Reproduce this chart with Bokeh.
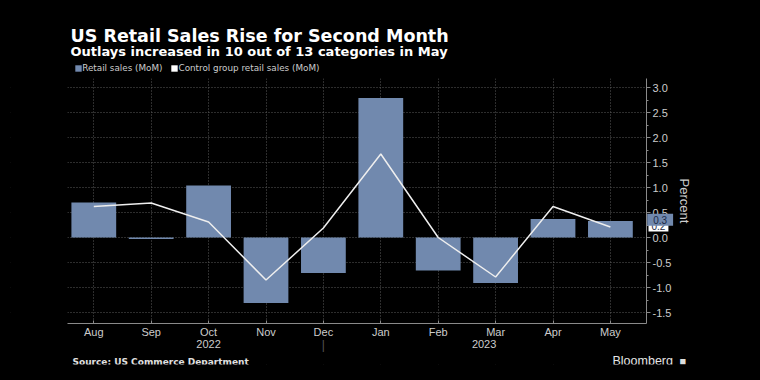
from bokeh.plotting import figure
from bokeh.models import (Range1d, FixedTicker, SingleIntervalTicker, Label, NumeralTickFormatter,
                          BoxAnnotation, Legend, LegendItem)
from bokeh.embed import file_html
from bokeh.resources import INLINE

# ---- data ----
months = ["Aug", "Sep", "Oct", "Nov", "Dec", "Jan", "Feb", "Mar", "Apr", "May"]
years = ["2022", "2023"]
year_pos = [2, 6.8]
retail_sales = [0.70, -0.03, 1.04, -1.31, -0.71, 2.79, -0.66, -0.91, 0.37, 0.33]
control_group = [0.62, 0.69, 0.31, -0.85, 0.19, 1.67, 0.00, -0.79, 0.62, 0.21]

x = list(range(len(months)))

BG = "#000000"
BAR = "#7189ae"
LINE = "#eeeeee"
GRID = "#5a5a5a"
AX = "#8a8a8a"
TXT = "#cccccc"
FONT = "Liberation Sans"
TFONT = "DejaVu Sans"

W, H = 760, 380
# frame spans almost the whole canvas; axes sit at fixed locations inside it
ML, MR, MT, MB = 10, 60, 10, 16
FL, FR, FT, FB = ML, W - MR, MT, H - MB          # frame edges (px)
X0, DX = 93.3, 57.4                               # px of first month, px per month
Y0, DY = 237.0, 50.0                              # px of zero, px per unit
PX_L, PX_R, PY_T, PY_B = 67, 646, 78, 323         # plotting area (px)

def xv(px): return (px - X0) / DX
def yv(py): return (Y0 - py) / DY

XA, XB = xv(PX_L), xv(PX_R)      # plotting area in data units
YA, YB = yv(PY_B), yv(PY_T)

p = figure(width=W, height=H, output_backend="svg", toolbar_location=None,
           y_axis_location="right",
           x_range=Range1d(xv(FL), xv(FR)), y_range=Range1d(yv(FB), yv(FT)),
           min_border_left=ML, min_border_right=MR, min_border_top=MT, min_border_bottom=MB)
p.background_fill_color = BG
p.border_fill_color = BG
p.outline_line_color = None

bars = p.vbar(x=x, top=retail_sales, bottom=0, width=0.78, fill_color=BAR, line_color=None)
line = p.line(x=x, y=control_group, line_color=LINE, line_width=1.5)
# hidden renderer that only supplies the white square legend swatch
swatch = p.vbar(x=x, top=control_group, width=0.78, fill_color="#ffffff", line_color=None,
                visible=False)

# axes at fixed locations
xa = p.xaxis[0]
xa.fixed_location = YA
xa.bounds = (XA, XB)
xa.ticker = FixedTicker(ticks=x)
xa.major_label_overrides = {i: m for i, m in zip(x, months)}
xa.axis_line_color = AX
xa.major_tick_in = 3
xa.major_tick_out = 0
xa.major_tick_line_color = AX
xa.minor_tick_line_color = None
xa.major_label_text_color = TXT
xa.major_label_text_font = FONT
xa.major_label_text_font_size = "11px"
xa.major_label_standoff = 2

ya = p.yaxis[0]
ya.fixed_location = XB
ya.bounds = (YA, YB)
ya.ticker = SingleIntervalTicker(interval=0.5, num_minor_ticks=2)
ya.formatter = NumeralTickFormatter(format="0.0")
ya.axis_line_color = AX
ya.major_tick_out = 4
ya.major_tick_in = 0
ya.minor_tick_out = 2
ya.minor_tick_in = 0
ya.major_tick_line_color = AX
ya.minor_tick_line_color = AX
ya.major_label_text_color = TXT
ya.major_label_text_font = FONT
ya.major_label_text_font_size = "11px"
ya.major_label_standoff = 2
ya.axis_label = "Percent"
ya.axis_label_text_color = TXT
ya.axis_label_text_font = FONT
ya.axis_label_text_font_size = "13px"
ya.axis_label_text_font_style = "normal"
ya.axis_label_standoff = 3

# grids
p.xgrid.ticker = FixedTicker(ticks=x)
p.ygrid.ticker = ya.ticker
p.ygrid.bounds = (YA, YB)
for g in (p.xgrid, p.ygrid):
    g.grid_line_color = GRID
    g.grid_line_dash = "1 2"
    g.grid_line_width = 1

# mask grid lines outside the plotting area
xs, xe, ys, ye = xv(FL) - 1, xv(FR) + 1, yv(FB) - 1, yv(FT) + 1
for l, r, b, t in [(xs, xe, YB, ye), (xs, xe, ys, YA), (xs, XA, ys, ye), (XB, xe, ys, ye)]:
    p.add_layout(BoxAnnotation(left=l, right=r, bottom=b, top=t, fill_color=BG, fill_alpha=1,
                               line_color=None, level="underlay"))

def lab(text, px, py, size, color="#ffffff", bold=False, font=FONT, align="left",
        baseline="alphabetic"):
    # px/py: page pixels from top-left; converted to screen units from frame bottom-left
    p.add_layout(Label(text=text, x=px - FL, y=FB - py, x_units="screen", y_units="screen",
                       text_font=font, text_font_size=size, text_color=color,
                       text_font_style="bold" if bold else "normal",
                       text_align=align, text_baseline=baseline))

# titles
lab("US Retail Sales Rise for Second Month", 70, 35, "17.5px", bold=True, font=TFONT)
lab("Outlays increased in 10 out of 13 categories in May", 70, 51, "13px", bold=True, font=TFONT)

# legend
legend = Legend(items=[LegendItem(label="Retail sales (MoM)", renderers=[bars]),
                       LegendItem(label="Control group retail sales (MoM)", renderers=[swatch])],
                orientation="horizontal", location=(74.2 - FL, FB - 72.5),
                glyph_width=8, glyph_height=8, label_height=8, label_standoff=0, spacing=8,
                padding=0, margin=0, background_fill_alpha=0, border_line_color=None,
                inactive_fill_alpha=0,
                label_text_font=TFONT, label_text_font_size="8.8px", label_text_color=TXT)
p.add_layout(legend)

# year labels and separator
for yl, xp in zip(years, year_pos):
    p.add_layout(Label(text=yl, x=xp, y=FB - 343.5, x_units="data", y_units="screen",
                       text_font=FONT, text_font_size="11px", text_color=TXT,
                       text_align="center", text_baseline="middle"))
p.add_layout(Label(text="|", x=4, y=FB - 344, x_units="data", y_units="screen",
                   text_font=FONT, text_font_size="12px", text_color="#555555",
                   text_align="center", text_baseline="middle"))

# last-value labels (white = control group, blue = retail sales); x is the box's left edge
p.add_layout(Label(text=f"{control_group[-1]:.1f}", x=648 - FL, y=control_group[-1] + 0.03,
                   x_units="screen", y_units="data",
                   text_font=FONT, text_font_size="10px", text_color="#1b2a47",
                   text_baseline="middle", background_fill_color="#ffffff", padding=(3, 2)))
p.add_layout(Label(text=f"{retail_sales[-1]:.1f}", x=646.7 - FL, y=retail_sales[-1] + 0.024,
                   x_units="screen", y_units="data",
                   text_font=FONT, text_font_size="10px", text_color="#1b2a47",
                   text_baseline="middle", background_fill_color=BAR, padding=(6, 2)))

# footer
lab("Source: US Commerce Department", 72, 361, "9px", color="#e0e0e0", bold=True, font=TFONT)
lab("Bloomberg", 612, 360.5, "12.5px", color="#e6e6e6")
lab("\u25A0", 679, 360.5, "11px", color="#dddddd")

html = file_html(p, INLINE)
html = html.replace("</head>", "<style>html,body{background:#000000;}</style></head>")
open("out.html", "w").write(html)
